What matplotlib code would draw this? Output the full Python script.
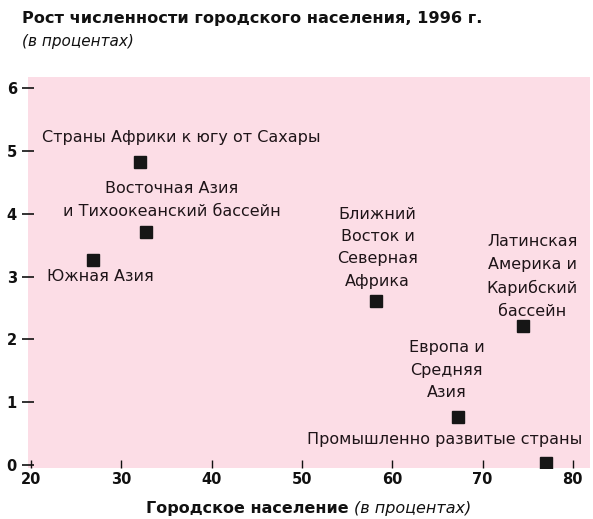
import matplotlib
matplotlib.use("Agg")
import matplotlib.pyplot as plt

plt.rcParams['font.family'] = ['DejaVu Sans']

# urban population share (%) and urban population growth (%), 1996
regions = [
    "Страны Африки к югу от Сахары",
    "Восточная Азия\nи Тихоокеанский бассейн",
    "Южная Азия",
    "Ближний\nВосток и\nСеверная\nАфрика",
    "Латинская\nАмерика и\nКарибский\nбассейн",
    "Европа и\nСредняя\nАзия",
    "Промышленно развитые страны",
]
urban_share = [32.1, 32.7, 26.9, 58.2, 74.5, 67.3, 77.0]
urban_growth = [4.82, 3.71, 3.26, 2.61, 2.21, 0.76, 0.03]

# label anchors (data coords) and alignment
label_x = [36.6, 35.6, 21.8, 58.4, 75.5, 66.0, 65.8]
label_y = [5.22, 4.22, 3.00, 3.46, 3.00, 1.51, 0.40]
label_ha = ["center", "center", "left", "center", "center", "center", "center"]

xticks = [20, 30, 40, 50, 60, 70, 80]
yticks = [0, 1, 2, 3, 4, 5, 6]

fig = plt.figure(figsize=(5.93, 5.19), dpi=100)
ax = fig.add_axes([0.047, 0.098, 0.948, 0.754])
ax.set_facecolor("#fcdde6")

ax.plot(urban_share, urban_growth, "s", color="#161616", markersize=8, zorder=3)

for name, lx, ly, ha in zip(regions, label_x, label_y, label_ha):
    ax.text(lx, ly, name, ha=ha, va="center", fontsize=11.5,
            color="#1e1418", linespacing=1.62)

ax.set_xlim(19.67, 81.9)
ax.set_ylim(-0.05, 6.18)
ax.set_xticks(xticks)
ax.set_yticks(yticks)
for s in ax.spines.values():
    s.set_visible(False)
ax.tick_params(axis="y", direction="inout", length=8, width=1.2, pad=4,
               labelsize=10.5, colors="#111111")
ax.tick_params(axis="x", direction="in", length=6, width=1, pad=3,
               labelsize=10.5, colors="#111111")
for lab in ax.get_xticklabels() + ax.get_yticklabels():
    lab.set_fontweight("bold")

fig.text(0.037, 0.965, "Рост численности городского населения, 1996 г.",
         fontsize=11.6, fontweight="bold", va="center", color="#111111")
fig.text(0.037, 0.921, "(в процентах)", fontsize=11, style="italic",
         va="center", color="#111111")

t1 = fig.text(0.246, 0.021, "Городское население ", fontsize=11.5,
              fontweight="bold", va="center", color="#111111")
ax.annotate("(в процентах)", xy=(1, 0.5), xycoords=t1, fontsize=11.5,
            style="italic", va="center", ha="left", color="#111111",
            annotation_clip=False)

fig.savefig("out.png", dpi=100)
